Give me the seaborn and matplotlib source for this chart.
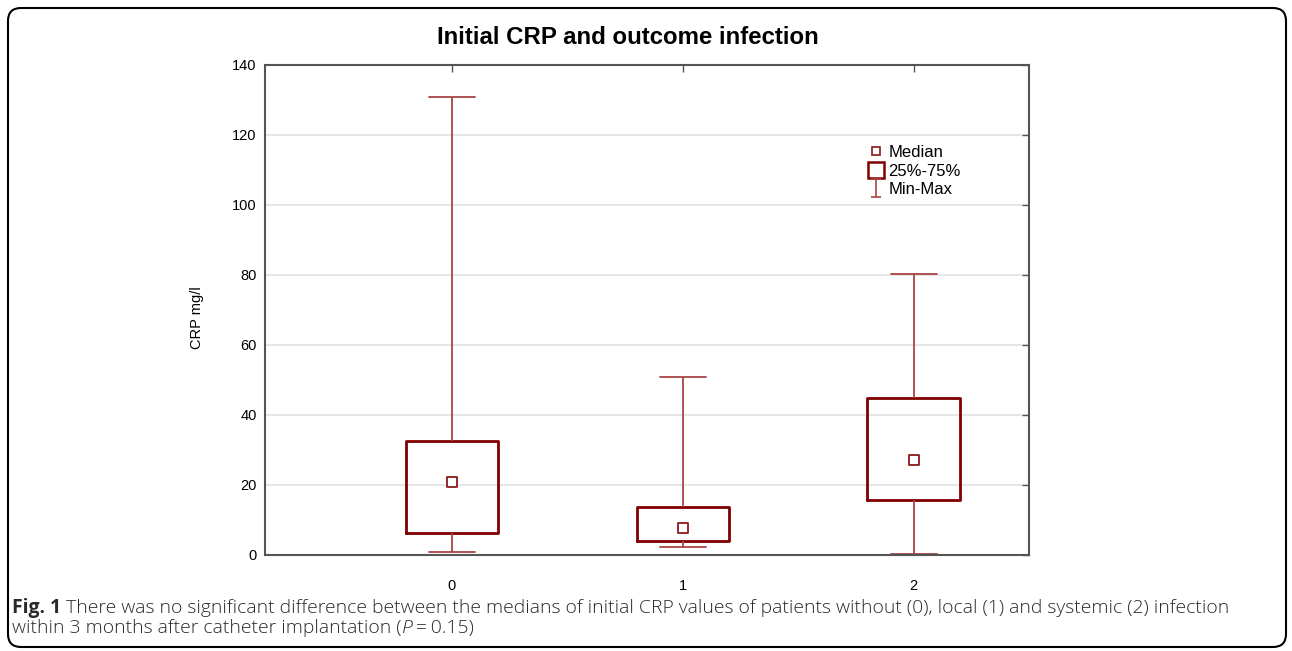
import numpy as np
import pandas as pd
import matplotlib
matplotlib.use("Agg")
import matplotlib.pyplot as plt
import seaborn as sns
from matplotlib.lines import Line2D
from matplotlib.path import Path
from matplotlib.patches import FancyBboxPatch

# summary values (CRP mg/l)
groups = ["0", "1", "2"]
crp_min = [0.9, 2.2, 0.2]
crp_q1 = [6.2, 4.0, 15.7]
crp_median = [20.8, 7.6, 27.1]
crp_q3 = [32.6, 13.8, 44.8]
crp_max = [130.8, 50.8, 80.4]
y_ticks = [0, 20, 40, 60, 80, 100, 120, 140]
legend_labels = ["Median", "25%-75%", "Min-Max"]

title = "Initial CRP and outcome infection"
caption_1 = [("Fig. 1", "bold", "normal"),
             ("There was no significant difference between the medians of initial CRP values of patients "
              "without (0), local (1) and systemic (2) infection", 300, "normal")]
caption_2 = [("within 3 months after catheter implantation (", 300, "normal"),
             ("P", 300, "italic"),
             ("\u2009=\u20090.15)", 300, "normal")]

BOX = "#800000"
WHISK = "#a84444"

# five numbers per group -> box stats with whiskers at min/max
rows = []
for g, vals in zip(groups, zip(crp_min, crp_q1, crp_median, crp_q3, crp_max)):
    for v in vals:
        rows.append({"group": g, "crp": v})
df = pd.DataFrame(rows)
med = pd.DataFrame({"group": groups, "crp": crp_median})

sns.set_style("white")
plt.rcParams["font.family"] = ["Liberation Sans", "DejaVu Sans"]
plt.rcParams["text.color"] = "black"
plt.rcParams["axes.labelcolor"] = "black"

W, H, DPI = 1292, 651, 100
fig = plt.figure(figsize=(W / DPI, H / DPI), dpi=DPI)
ax = fig.add_axes([265 / W, (H - 555) / H, 764 / W, 490 / H])

sns.boxplot(data=df, x="group", y="crp", order=groups, width=0.4, whis=(0, 100),
            fill=False, showfliers=False, ax=ax,
            boxprops={"color": BOX, "linewidth": 2.0},
            whiskerprops={"color": WHISK, "linewidth": 1.3},
            capprops={"color": WHISK, "linewidth": 1.3},
            medianprops={"linewidth": 0, "visible": False})
sns.stripplot(data=med, x="group", y="crp", order=groups, jitter=False, marker="s",
              size=6.5, color="white", edgecolor="#8b1a1a", linewidth=1.3, ax=ax, zorder=5)

ax.set_xlim(-0.81, 2.5)
ax.set_ylim(0, 140)
ax.set_yticks(y_ticks)
ax.yaxis.grid(True, color="#e2e2e2", linewidth=1.2)
ax.xaxis.grid(False)
ax.set_axisbelow(True)
for sp in ax.spines.values():
    sp.set_visible(True)
    sp.set_color("#555555")
    sp.set_linewidth(1.5)
ax.tick_params(direction="in", length=5, width=1, color="#555555", labelcolor="black",
               top=True, right=True, labelsize=10.5)
ax.tick_params(axis="x", pad=17)
ax.tick_params(axis="y", pad=6)
ax.set_xlabel("")
ax.set_ylabel("CRP mg/l", fontsize=10.5)
ax.yaxis.set_label_coords(-0.08, 0.484)

# legend symbols
ipath = Path([(-0.5, 1), (0.5, 1), (0, 1), (0, -1), (-0.5, -1), (0.5, -1)],
             [Path.MOVETO, Path.LINETO, Path.MOVETO, Path.LINETO, Path.MOVETO, Path.LINETO])
handles = [
    Line2D([], [], marker="s", ls="none", markersize=6, mfc="white", mec="#8b1a1a", mew=1.2),
    Line2D([], [], marker="s", ls="none", markersize=11, mfc="white", mec=BOX, mew=1.8),
    Line2D([], [], marker=ipath, ls="none", markersize=13, color=WHISK, mew=1.2),
]
ax.legend(handles, legend_labels, loc="upper left",
          bbox_to_anchor=(870 / W, 1 - 145 / H), bbox_transform=fig.transFigure,
          frameon=False, fontsize=12, handlelength=0.75, handletextpad=0.35,
          labelspacing=0.22, borderpad=0, borderaxespad=0)

fig.text(628 / W, 1 - 38 / H, title, ha="center", va="center",
         fontsize=17.3, fontweight="bold", color="black")

# caption, placed run by run in pixels
renderer = fig.canvas.get_renderer()
cap_font = ["Open Sans", "DejaVu Sans"]


def width_px(s, size, weight="normal", style="normal"):
    t = fig.text(0, 0, s, fontsize=size, family=cap_font, fontweight=weight, fontstyle=style)
    w = t.get_window_extent(renderer).width
    t.remove()
    return w


base = 11
full = " ".join(r[0] for r in caption_1)
cap_size = base * 1216 / width_px(full, base, 300)
space = width_px("a a", cap_size) - width_px("aa", cap_size)


def draw_runs(runs, x, y, sep):
    for i, (s, weight, style) in enumerate(runs):
        t = fig.text(x / W, 1 - y / H, s, fontsize=cap_size, family=cap_font,
                     fontweight=weight, fontstyle=style, va="center", color="#2a2a2a")
        x += t.get_window_extent(renderer).width + (space if sep and i < len(runs) - 1 else 0)


draw_runs(caption_1, 12, 608, True)
draw_runs(caption_2, 12, 628, False)

frame = FancyBboxPatch((8 / DPI, (H - 647) / DPI), 1278 / DPI, 639 / DPI,
                       boxstyle="round,pad=0,rounding_size=0.13",
                       transform=fig.dpi_scale_trans, fill=False, lw=1.5, ec="black")
fig.add_artist(frame)

fig.savefig("out.png", dpi=DPI)
